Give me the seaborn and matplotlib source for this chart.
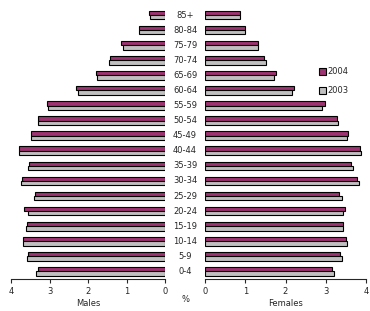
import matplotlib

matplotlib.use("Agg")

import matplotlib.pyplot as plt
import matplotlib.transforms as mtransforms
from matplotlib.patches import Patch
import pandas as pd
import seaborn as sns

age_groups = ["85+", "80-84", "75-79", "70-74", "65-69", "60-64", "55-59", "50-54", "45-49",
              "40-44", "35-39", "30-34", "25-29", "20-24", "15-19", "10-14", "5-9", "0-4"]
years = ["2004", "2003"]

males_2004 = [0.42, 0.68, 1.13, 1.42, 1.80, 2.32, 3.07, 3.29, 3.49,
              3.78, 3.54, 3.72, 3.37, 3.65, 3.59, 3.70, 3.55, 3.31]
males_2003 = [0.40, 0.68, 1.10, 1.45, 1.76, 2.25, 3.03, 3.31, 3.47,
              3.80, 3.57, 3.75, 3.41, 3.55, 3.62, 3.70, 3.59, 3.36]
females_2004 = [0.87, 1.00, 1.32, 1.47, 1.77, 2.22, 2.99, 3.29, 3.56,
                3.86, 3.63, 3.78, 3.34, 3.49, 3.44, 3.51, 3.36, 3.15]
females_2003 = [0.87, 1.00, 1.32, 1.52, 1.72, 2.15, 2.91, 3.31, 3.54,
                3.88, 3.68, 3.83, 3.41, 3.43, 3.44, 3.54, 3.41, 3.20]

x_ticks = [0, 1, 2, 3, 4]
colors = {"2004": "#9e3372", "2003": "#c0c0c0"}


def _frame(values_2004, values_2003):
    return pd.DataFrame({
        "age": age_groups * 2,
        "year": ["2004"] * len(age_groups) + ["2003"] * len(age_groups),
        "pct": values_2004 + values_2003,
    })


males = _frame(males_2004, males_2003)
females = _frame(females_2004, females_2003)

sns.set_style("white")
plt.rcParams["font.family"] = ["DejaVu Sans"]
fs = 6

fig = plt.figure(figsize=(3.7, 3.11), dpi=100)
ax_m = fig.add_axes([11 / 370, 32 / 311, 154 / 370, 271.5 / 311])
ax_f = fig.add_axes([205 / 370, 32 / 311, 161 / 370, 271.5 / 311])

for ax, data in [(ax_m, males), (ax_f, females)]:
    sns.barplot(data=data, x="pct", y="age", hue="year", order=age_groups, hue_order=years,
                palette=colors, orient="h", width=0.58, edgecolor="black", linewidth=0.8,
                saturation=1, legend=False, ax=ax)
    ax.set_xticks(x_ticks)
    ax.set_xticklabels([str(t) for t in x_ticks], fontsize=fs)
    ax.set_yticks([])
    ax.set_ylabel("")
    for side in ["left", "right", "top"]:
        ax.spines[side].set_visible(False)
    ax.spines["bottom"].set_linewidth(0.8)
    ax.tick_params(axis="x", direction="out", length=3, width=0.8, pad=3, bottom=True)
    ax.set_facecolor("none")

ax_m.set_xlim(4, 0)
ax_f.set_xlim(0, 4)
ax_m.set_xlabel("Males", fontsize=fs, labelpad=2)
ax_f.set_xlabel("Females", fontsize=fs, labelpad=2)

label_tf = mtransforms.blended_transform_factory(fig.transFigure, ax_m.transData)
for i, age in enumerate(age_groups):
    ax_m.text(185 / 370, i, age, transform=label_tf, ha="center", va="center", fontsize=fs)
fig.text(185 / 370, 11 / 311, "%", ha="center", va="center", fontsize=fs)

handles = [Patch(facecolor=colors[y], edgecolor="black", linewidth=0.8, label=y) for y in years]
ax_f.legend(handles=handles, loc="upper left", bbox_to_anchor=(0.71, 0.78), frameon=False,
            fontsize=fs, handlelength=0.8, handleheight=0.8, handletextpad=0.2, labelspacing=1.2,
            borderpad=0, borderaxespad=0)

fig.savefig("out.png", dpi=100)
